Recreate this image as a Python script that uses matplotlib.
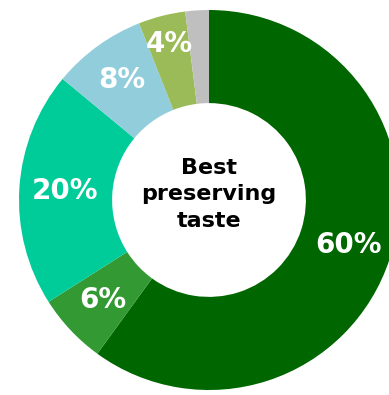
import numpy as np
import matplotlib.pyplot as plt

# share of answers, clockwise from 12 o'clock
shares = [60, 6, 20, 8, 4, 2]
labels = ["60%", "6%", "20%", "8%", "4%", ""]
colors = ["#006600", "#339933", "#00CC99", "#92CDDC", "#9BBB59", "#BFBFBF"]
center_text = "Best\npreserving\ntaste"

W, H = 389, 395
cx, cy, R = 209, 200, 190  # donut centre and radius in pixels

fig = plt.figure(figsize=(W / 100, H / 100), dpi=100)
ax = fig.add_axes([0, 0, 1, 1])

wedges, _ = ax.pie(shares, colors=colors, startangle=90, counterclock=False,
                   radius=1.0, wedgeprops=dict(width=0.49, linewidth=0))

# label distance from centre; the thin 4% slice gets pushed outwards
label_r = [0.77, 0.77, 0.76, 0.78, 0.85, 0.77]
for w, lab, r in zip(wedges, labels, label_r):
    if not lab:
        continue
    ang = np.deg2rad((w.theta1 + w.theta2) / 2)
    ax.text(r * np.cos(ang), r * np.sin(ang), lab, ha="center", va="center",
            color="white", fontsize=20, fontweight="bold", family="DejaVu Sans")

ax.text(0, 0.03, center_text, ha="center", va="center", color="black",
        fontsize=16, fontweight="bold", family="DejaVu Sans", linespacing=1.4)

ax.set_xlim(-cx / R, (W - cx) / R)
ax.set_ylim(-(H - cy) / R, cy / R)
ax.set_aspect("auto")
ax.axis("off")

fig.savefig("out.png", dpi=100)
